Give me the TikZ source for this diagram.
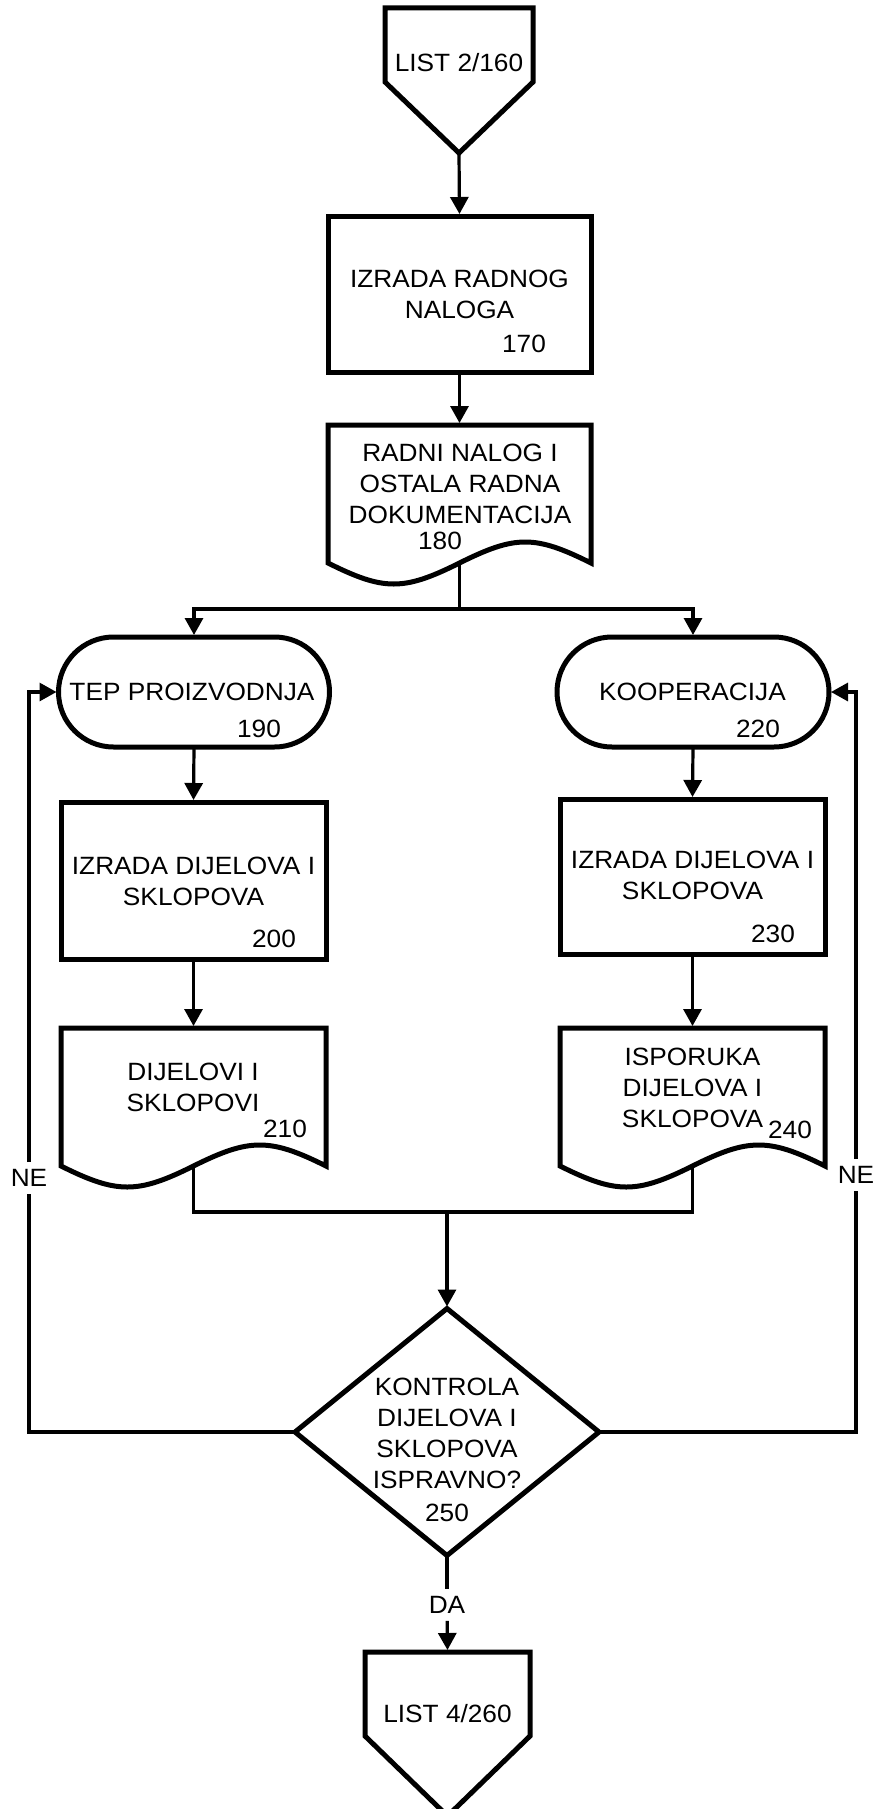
\documentclass[tikz,border=0pt]{standalone}
\usepackage{fontspec}
\setmainfont{Liberation Sans}[FakeStretch=1.05]
\usetikzlibrary{shapes.geometric,arrows.meta,calc}
\tikzset{
  bordline/.style={draw=black, line width=5pt},
  shp/.style={rectangle, inner sep=0pt, outer sep=0pt},
  txt/.style={inner sep=0pt, align=center, font=\fontsize{25}{31}\selectfont},
  lbl/.style={inner sep=7pt, font=\fontsize{25}{31}\selectfont},
  conn/.style={draw=black, line width=3.2pt},
  arr/.style={conn, -{Triangle[length=17pt,width=18pt]}, shorten >=2pt},
}
\newcommand\mydoc[1]{%
  \draw[bordline] (#1.south west) -- (#1.north west) -- (#1.north east) -- (#1.south east)
    .. controls ($(#1.south east)+(-56,-28)$) and ($(#1.south)+(56,-28)$) .. (#1.south)
    .. controls ($(#1.south)+(-56,28)$) and ($(#1.south west)+(56,28)$) .. (#1.south west) -- cycle;}
\newcommand\myoff[2]{%
  \draw[bordline] (#1.south west) -- (#1.north west) -- (#1.north east) -- (#1.south east) -- (#2) -- cycle;}
\begin{document}
\begin{tikzpicture}[x=1pt,y=-1pt]
\useasboundingbox (0,0) rectangle (874,1809);

% LIST 2/160
\node[shp, minimum width=148pt, minimum height=74pt] (l160) at (459,45) {};
\coordinate (l160tip) at ($(l160.south)+(0,71)$);
\myoff{l160}{l160tip}
\node[txt] (t160) at (459,62.5) {LIST 2/160};

% 170
\node[shp, bordline, minimum width=263pt, minimum height=156pt] (b170) at (459.5,294) {};
\node[txt] (t170) at (459.5,294) {IZRADA RADNOG\\NALOGA};
\node[txt] (n170) at (524,344) {170};

% 180
\node[shp, minimum width=263pt, minimum height=138pt] (d180) at (459.5,494) {};
\mydoc{d180}
\node[txt] (t180) at (460,484) {RADNI NALOG I\\OSTALA RADNA\\DOKUMENTACIJA};
\node[txt] (n180) at (440,540.5) {180};

% 190 / 220
\node[shp, bordline, rounded corners=55pt, minimum width=271pt, minimum height=110pt] (s190) at (194,692) {};
\node[txt] (t190) at (192,692) {TEP PROIZVODNJA};
\node[txt] (n190) at (259,729) {190};
\node[shp, bordline, rounded corners=55pt, minimum width=272pt, minimum height=110pt] (s220) at (693,692) {};
\node[txt] (t220) at (692.5,692) {KOOPERACIJA};
\node[txt] (n220) at (758,729) {220};

% 200 / 230
\node[shp, bordline, minimum width=265pt, minimum height=157pt] (b200) at (193.5,880.5) {};
\node[txt] (t200) at (193.5,881) {IZRADA DIJELOVA I\\SKLOPOVA};
\node[txt] (n200) at (274,938.5) {200};
\node[shp, bordline, minimum width=265pt, minimum height=155pt] (b230) at (692.5,876.5) {};
\node[txt] (t230) at (692.5,875) {IZRADA DIJELOVA I\\SKLOPOVA};
\node[txt] (n230) at (773,933.5) {230};

% 210 / 240
\node[shp, minimum width=265pt, minimum height=138pt] (d210) at (193.5,1097) {};
\mydoc{d210}
\node[txt] (t210) at (193,1087.5) {DIJELOVI I\\SKLOPOVI};
\node[txt] (n210) at (285,1128.5) {210};
\node[shp, minimum width=265pt, minimum height=138pt] (d240) at (692.5,1097) {};
\mydoc{d240}
\node[txt] (t240) at (692.5,1088) {ISPORUKA\\DIJELOVA I\\SKLOPOVA};
\node[txt] (n240) at (790,1130) {240};

% 250
\node[diamond, bordline, inner sep=0pt, outer sep=0pt, minimum width=304pt, minimum height=247pt] (dia) at (447,1432) {};
\node[txt] (t250) at (447,1433) {KONTROLA\\DIJELOVA I\\SKLOPOVA\\ISPRAVNO?};
\node[txt] (n250) at (447,1513) {250};

% LIST 4/260
\node[shp, minimum width=165pt, minimum height=84pt] (l260) at (447.5,1694) {};
\coordinate (l260tip) at ($(l260.south)+(0,80)$);
\myoff{l260}{l260tip}
\node[txt] (t260) at (447.5,1714) {LIST 4/260};

% labels
\node[lbl] (ne1) at (29,1178) {NE};
\node[lbl] (ne2) at (856,1175) {NE};
\node[lbl] (da) at (447,1605) {DA};

% junctions
\coordinate (j1) at (459.5,609);
\coordinate (j2) at (447,1212);

% connectors
\draw[arr] (l160tip) -- (b170.north);
\draw[arr] (b170.south) -- (d180.north);
\draw[conn] (d180.south) -- (j1);
\draw[arr] (j1) -| (s190.north);
\draw[arr] (j1) -| (s220.north);
\draw[arr] (s190.south) -- (b200.north);
\draw[arr] (s220.south) -- (b230.north);
\draw[arr] (b200.south) -- (d210.north);
\draw[arr] (b230.south) -- (d240.north);
\draw[conn] (d210.south) |- (j2);
\draw[conn] (d240.south) |- (j2);
\draw[arr] (j2) -- (dia.north);
\draw[conn] (dia.south) -- (da);
\draw[arr] (da) -- (l260.north);
\draw[conn] (dia.west) -| (ne1);
\draw[arr] (ne1) |- (s190.west);
\draw[conn] (dia.east) -| (ne2);
\draw[arr] (ne2) |- (s220.east);
\end{tikzpicture}
\end{document}
